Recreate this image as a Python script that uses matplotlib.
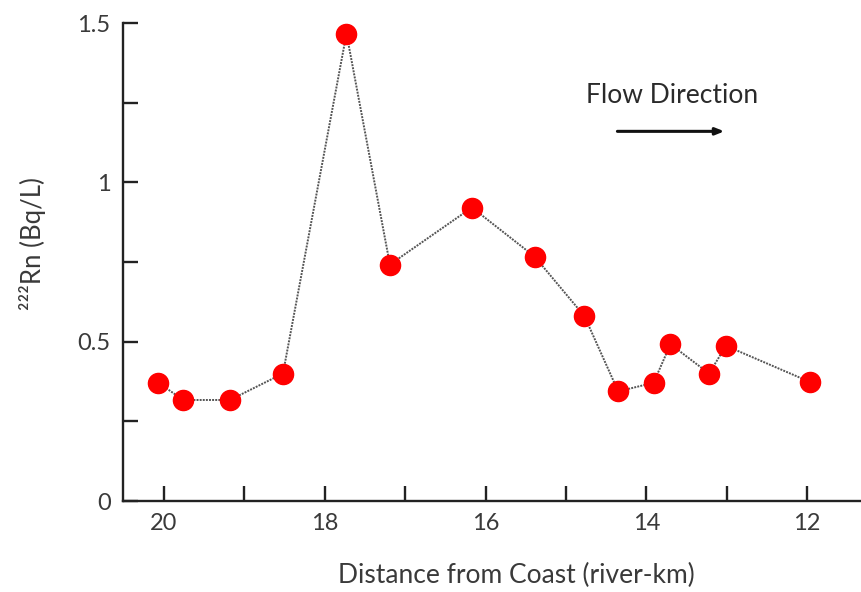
import matplotlib
matplotlib.use("Agg")
import matplotlib.pyplot as plt

# River distance (km from coast) and radon activity
distance_km = [20.07, 19.76, 19.18, 18.52, 17.73, 17.19, 16.17, 15.39,
               14.77, 14.35, 13.91, 13.70, 13.22, 13.01, 11.96]
radon_bq_l = [0.371, 0.317, 0.317, 0.400, 1.467, 0.742, 0.921, 0.767,
              0.580, 0.344, 0.371, 0.492, 0.400, 0.487, 0.373]

x_ticks = [20, 18, 16, 14, 12]
y_ticks = [0, 0.5, 1, 1.5]
y_tick_labels = ["0", "0.5", "1", "1.5"]

plt.rcParams['font.family'] = ['Lato', 'DejaVu Sans']

fig = plt.figure(figsize=(8.61, 5.92), dpi=100)
ax = fig.add_axes([123 / 861, 1 - 501 / 592, 1 - 123 / 861, (501 - 23) / 592])

ax.plot(distance_km, radon_bq_l, color='#555555', lw=1.4,
        linestyle=(0, (1, 0.6)), zorder=2)
ax.plot(distance_km, radon_bq_l, linestyle='none', marker='o', ms=14.5,
        markerfacecolor='#ff0000', markeredgecolor='#ff0000', zorder=3)

ax.set_xlim(20.51, 11.33)
ax.set_ylim(0, 1.5)

ax.set_xticks(x_ticks)
ax.set_xticks([19, 17, 15, 13], minor=True)
ax.set_yticks(y_ticks)
ax.set_yticklabels(y_tick_labels)
ax.set_yticks([0.25, 0.75, 1.25], minor=True)

for side in ('top', 'right'):
    ax.spines[side].set_visible(False)
for side in ('left', 'bottom'):
    ax.spines[side].set_linewidth(1.7)
    ax.spines[side].set_color('#222222')

ax.tick_params(axis='both', which='both', direction='in', length=11,
               width=1.7, color='#222222', labelsize=17,
               labelcolor='#3a3a3a')
ax.tick_params(axis='x', pad=9)
ax.tick_params(axis='y', pad=9)

ax.set_xlabel('Distance from Coast (river-km)', fontsize=19,
              color='#3a3a3a', va='top')
ax.xaxis.set_label_coords((516 - 123) / 738, (501 - 563) / 478)
ax.set_ylabel('²²²Rn (Bq/L)', fontsize=18.5, color='#3a3a3a',
              va='center')
ax.yaxis.set_label_coords((32 - 123) / 738, (501 - 244) / 478)

ax.text(13.68, 1.273, 'Flow Direction', fontsize=19,
        color='#2a2a2a', ha='center', va='center')
ax.annotate('', xy=(13.03, 1.16), xytext=(14.36, 1.16),
            arrowprops=dict(arrowstyle='-|>,head_length=0.5,head_width=0.2',
                            color='#111111', lw=2.2, shrinkA=0, shrinkB=0))

fig.savefig('out.png', dpi=100)
